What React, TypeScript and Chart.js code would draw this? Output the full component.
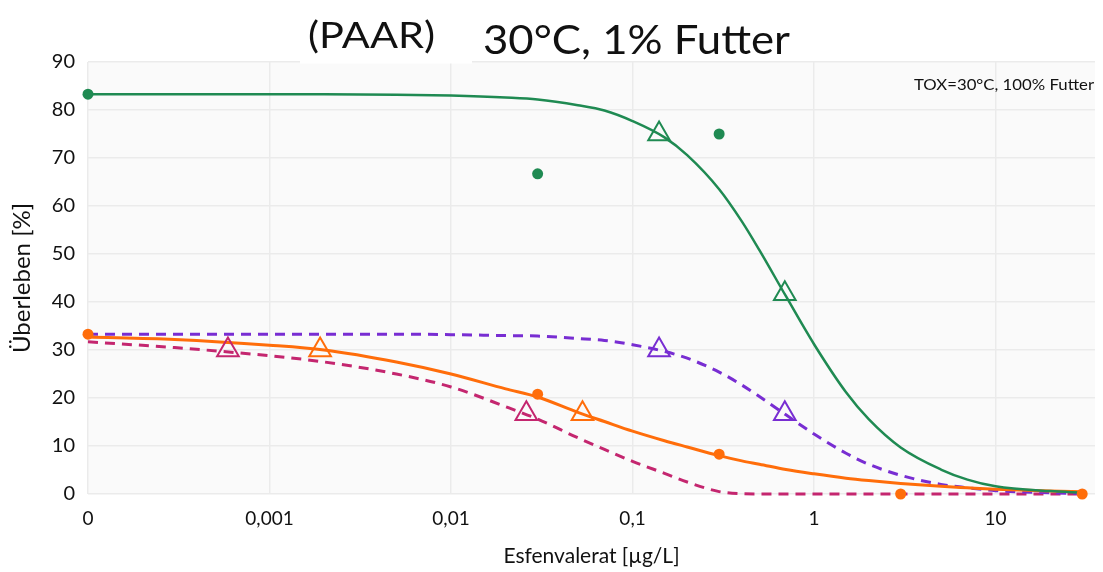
import { useEffect, useRef } from "react";
import { Chart, registerables } from "chart.js";

Chart.register(...registerables);

// Header / axis texts
const titleLeft = "(PAAR)";
const titleRight = "30°C, 1% Futter";
const cornerNote = "TOX=30°C, 100% Futter";
const xAxisTitle = "Esfenvalerat [µg/L]";
const yAxisTitle = "Überleben [%]";

// Log axis: the control (0 µg/L) is placed one decade below 0,001
const xTickValues = [0.0001, 0.001, 0.01, 0.1, 1, 10];
const xTickLabels = ["0", "0,001", "0,01", "0,1", "1", "10"];
const yTicks = [0, 10, 20, 30, 40, 50, 60, 70, 80, 90];

// Concentrations at which the fitted dose-response curves are traced
const curveConc = [
  0.0001, 0.0003, 0.001, 0.002, 0.005, 0.01, 0.02, 0.03, 0.05, 0.07, 0.1,
  0.15, 0.2, 0.3, 0.4, 0.5, 0.7, 1, 1.5, 2, 3, 5, 7, 10, 20, 30,
];
const greenCurve = [
  83.3, 83.3, 83.3, 83.3, 83.2, 83.0, 82.6, 82.2, 81.0, 79.9, 77.7,
  74.3, 70.6, 63.5, 56.8, 50.8, 41.2, 31.2, 21.2, 15.6, 9.7, 5.1, 3.0, 1.6, 0.6, 0.3,
];
const purpleCurve = [
  33.3, 33.3, 33.3, 33.3, 33.3, 33.2, 33.0, 32.9, 32.4, 32.0, 31.1,
  29.7, 28.3, 25.4, 22.7, 20.3, 16.5, 12.5, 8.5, 6.2, 3.9, 2.0, 1.3, 0.7, 0.25, 0.1,
];
const orangeCurve = [
  32.7, 32.2, 31.0, 30.0, 27.5, 25.0, 21.9, 20.2, 17.0, 15.1, 13.1,
  11.1, 9.8, 8.0, 6.9, 6.2, 5.1, 4.2, 3.3, 2.8, 2.2, 1.6, 1.3, 1.0, 0.6, 0.45,
];
const magentaCurve = [
  31.7, 30.5, 28.8, 27.5, 25.0, 22.3, 18.2, 15.6, 11.7, 9.3, 6.8,
  4.3, 2.5, 0.5, 0.05, 0, 0, 0, 0, 0, 0, 0, 0, 0, 0, 0,
];

// Observed survival
const greenObsConc = [0.0001, 0.03, 0.3];
const greenObs = [83.3, 66.7, 75];
const orangeObsConc = [0.0001, 0.03, 0.3, 3, 30];
const orangeObs = [33.3, 20.8, 8.3, 0, 0];

// EC10 / EC50 markers
const greenEcConc = [0.14, 0.69];
const greenEc = [75, 41.7];
const purpleEcConc = [0.14, 0.69];
const purpleEc = [30, 16.7];
const orangeEcConc = [0.0019, 0.053];
const orangeEc = [30, 16.7];
const magentaEcConc = [0.00059, 0.026];
const magentaEc = [30, 16.7];

const GREEN = "#1f8a52";
const PURPLE = "#782dd2";
const ORANGE = "#ff6d0a";
const MAGENTA = "#c4266f";
const FONT = 'Lato, "Open Sans", sans-serif';

const pts = (xs: number[], ys: number[]) => xs.map((x, i) => ({ x, y: ys[i] }));

function fitText(
  ctx: CanvasRenderingContext2D,
  text: string,
  x: number,
  y: number,
  width: number,
  font: string,
  alignRight = false
) {
  ctx.save();
  ctx.font = font;
  const natural = ctx.measureText(text).width;
  const left = alignRight ? x - width : x;
  ctx.translate(left, y);
  ctx.scale(width / natural, 1);
  ctx.textAlign = "left";
  ctx.textBaseline = "alphabetic";
  ctx.fillText(text, 0, 0);
  ctx.restore();
}

const plotBackground = {
  id: "plotBackground",
  beforeDraw(chart: any) {
    const { ctx, chartArea: a, width, height } = chart;
    ctx.save();
    ctx.fillStyle = "#ffffff";
    ctx.fillRect(0, 0, width, height);
    ctx.fillStyle = "#fafafa";
    ctx.fillRect(a.left, a.top, a.right - a.left, a.bottom - a.top);
    ctx.restore();
  },
};

const headerText = {
  id: "headerText",
  afterDraw(chart: any) {
    const { ctx } = chart;
    ctx.save();
    ctx.fillStyle = "#ffffff";
    ctx.fillRect(300, 0, 172, 63.5);
    ctx.fillStyle = "#111111";
    fitText(ctx, titleLeft, 308, 48, 127, `37px ${FONT}`);
    fitText(ctx, titleRight, 483, 54, 307, `41px ${FONT}`);
    fitText(ctx, cornerNote, 1094, 90, 180, `16px ${FONT}`, true);
    ctx.restore();
  },
};

const curve = (data: number[], color: string, dash: number[], width: number) => ({
  data: pts(curveConc, data),
  showLine: true,
  borderColor: color,
  backgroundColor: color,
  borderWidth: width,
  borderDash: dash,
  pointRadius: 0,
  pointHoverRadius: 0,
  cubicInterpolationMode: "monotone" as const,
  fill: false,
  clip: false as const,
});

const dots = (xs: number[], ys: number[], color: string) => ({
  data: pts(xs, ys),
  showLine: false,
  pointStyle: "circle" as const,
  pointRadius: 5.5,
  pointBorderWidth: 0,
  pointBackgroundColor: color,
  pointBorderColor: color,
  backgroundColor: color,
  borderColor: color,
  clip: false as const,
});

const triangles = (xs: number[], ys: number[], color: string) => ({
  data: pts(xs, ys),
  showLine: false,
  pointStyle: "triangle" as const,
  pointRadius: 12.5,
  pointBorderWidth: 2,
  pointBackgroundColor: "rgba(0,0,0,0)",
  pointBorderColor: color,
  backgroundColor: "rgba(0,0,0,0)",
  borderColor: color,
  clip: false as const,
});

export default function App() {
  const canvasRef = useRef<HTMLCanvasElement | null>(null);

  useEffect(() => {
    const canvas = canvasRef.current;
    if (!canvas) return;

    const chart = new Chart(canvas, {
      type: "scatter",
      data: {
        datasets: [
          triangles(greenEcConc, greenEc, GREEN),
          triangles(purpleEcConc, purpleEc, PURPLE),
          triangles(orangeEcConc, orangeEc, ORANGE),
          triangles(magentaEcConc, magentaEc, MAGENTA),
          dots(greenObsConc, greenObs, GREEN),
          dots(orangeObsConc, orangeObs, ORANGE),
          curve(greenCurve, GREEN, [], 2.5),
          curve(orangeCurve, ORANGE, [], 3),
          curve(purpleCurve, PURPLE, [10, 7], 3),
          curve(magentaCurve, MAGENTA, [10, 7], 3),
        ] as any,
      },
      options: {
        animation: false,
        responsive: false,
        devicePixelRatio: 1,
        layout: { autoPadding: false, padding: { top: 62, right: 8, left: 0, bottom: 0 } },
        plugins: {
          legend: { display: false },
          tooltip: { enabled: false },
          title: { display: false },
        },
        scales: {
          x: {
            type: "logarithmic",
            min: 0.0001,
            max: 35.3,
            afterBuildTicks: (s: any) => {
              s.ticks = xTickValues.map((v) => ({ value: v }));
            },
            afterFit: (s: any) => {
              s.height = 78;
              s.paddingLeft = 0;
              s.paddingRight = 0;
            },
            ticks: {
              callback: (_v: any, i: number) => xTickLabels[i],
              autoSkip: false,
              maxRotation: 0,
              padding: 13,
              color: "#111111",
              font: { family: FONT, size: 19 },
            },
            grid: { color: "#ebebeb", lineWidth: 1.5, drawTicks: false },
            border: { display: false },
            title: {
              display: true,
              text: xAxisTitle,
              color: "#111111",
              font: { family: FONT, size: 21 },
              padding: { top: 0, bottom: 3 },
            },
          },
          y: {
            type: "linear",
            min: 0,
            max: 90,
            afterBuildTicks: (s: any) => {
              s.ticks = yTicks.map((v) => ({ value: v }));
            },
            afterFit: (s: any) => {
              s.width = 88;
            },
            ticks: {
              padding: 13,
              color: "#111111",
              font: { family: FONT, size: 20 },
            },
            grid: { color: "#ebebeb", lineWidth: 1.5, drawTicks: false },
            border: { display: false },
            title: {
              display: true,
              text: yAxisTitle,
              color: "#111111",
              font: { family: FONT, size: 24 },
              padding: { top: 8, bottom: 0 },
            },
          },
        },
      } as any,
      plugins: [plotBackground, headerText],
    });

    return () => chart.destroy();
  }, []);

  return (
    <div style={{ position: "absolute", left: 0, top: 0, width: 1103, height: 572, background: "#ffffff" }}>
      <canvas ref={canvasRef} width={1103} height={572} style={{ display: "block", width: 1103, height: 572 }} />
    </div>
  );
}
